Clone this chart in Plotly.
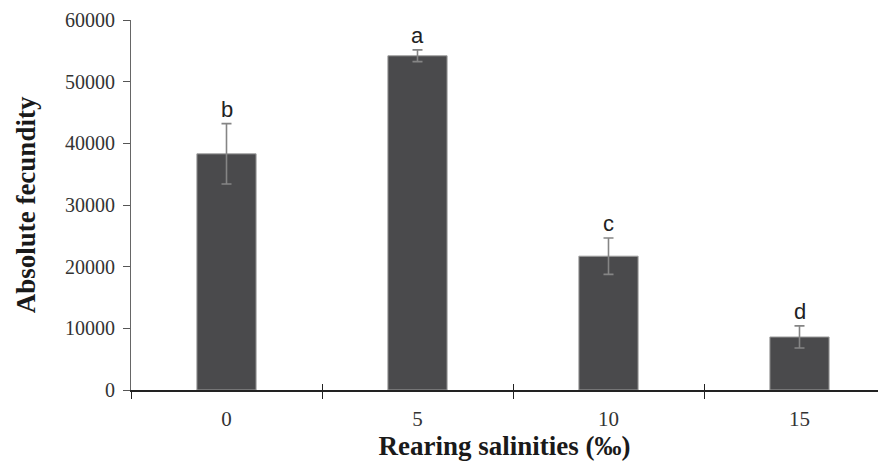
import plotly.graph_objects as go

categories = ["0", "5", "10", "15"]
fecundity = [38300, 54200, 21700, 8600]
errors = [4900, 950, 2950, 1800]
letters = ["b", "a", "c", "d"]

xpos = list(range(len(categories)))
boundaries = [i - 0.5 for i in range(len(categories))]

fig = go.Figure()
fig.add_trace(go.Bar(
    x=xpos, y=fecundity, width=0.31,
    marker=dict(color="#4a4a4c", line=dict(color="#a0a0a0", width=1)),
    error_y=dict(type="data", array=errors, visible=True, color="#858585", thickness=1.6, width=5),
    showlegend=False,
))
fig.add_trace(go.Scatter(x=xpos, y=fecundity, xaxis="x2", mode="markers",
                         marker=dict(opacity=0), showlegend=False, hoverinfo="skip"))
fig.add_trace(go.Scatter(x=xpos, y=fecundity, xaxis="x3", mode="markers",
                         marker=dict(opacity=0), showlegend=False, hoverinfo="skip"))

for i, (v, e, l) in enumerate(zip(fecundity, errors, letters)):
    fig.add_annotation(x=xpos[i], y=v + e, text=l, showarrow=False, yanchor="bottom", yshift=0,
                       font=dict(family="Liberation Sans, Arial", size=22, color="#222"))

xr = [-0.5, 3.411]
serif = "Liberation Serif, Times New Roman"
fig.update_layout(
    width=870, height=453,
    margin=dict(l=123, r=0, t=12, b=71, autoexpand=False),
    plot_bgcolor="white", paper_bgcolor="white",
    xaxis=dict(range=xr, tickmode="array", tickvals=boundaries, showticklabels=False, automargin=False,
               ticks="outside", ticklen=7, tickwidth=1.2, tickcolor="#222",
               showline=True, linecolor="#222", linewidth=1.5, showgrid=False, zeroline=False),
    xaxis3=dict(range=xr, overlaying="x", anchor="y", tickmode="array", tickvals=boundaries, automargin=False,
                showticklabels=False, ticks="inside", ticklen=6, tickwidth=1.2, tickcolor="#222",
                showline=False, showgrid=False, zeroline=False),
    xaxis2=dict(range=xr, overlaying="x", anchor="y", side="bottom", tickmode="array", automargin=False,
                tickvals=xpos, ticktext=categories, ticks="outside", ticklen=10, tickcolor="rgba(0,0,0,0)",
                tickfont=dict(family=serif, size=21, color="#333"),
                showline=False, showgrid=False, zeroline=False,
                title=dict(text="<b>Rearing salinities (‰)</b>", standoff=13,
                           font=dict(family=serif, size=27, color="#1a1a1a"))),
    yaxis=dict(range=[0, 60000], tickvals=[0, 10000, 20000, 30000, 40000, 50000, 60000], automargin=False,
               tickformat="d", ticklabeloverflow="allow", ticklabelstandoff=4,
               ticks="outside", ticklen=7, tickcolor="#555", tickwidth=1.2,
               showline=True, linecolor="#666", linewidth=1.2, showgrid=False, zeroline=False,
               tickfont=dict(family=serif, size=20, color="#333"),
               title=dict(text="<b>Absolute fecundity</b>", standoff=21,
                          font=dict(family=serif, size=27, color="#1a1a1a"))),
)
fig.write_html("out.html")
